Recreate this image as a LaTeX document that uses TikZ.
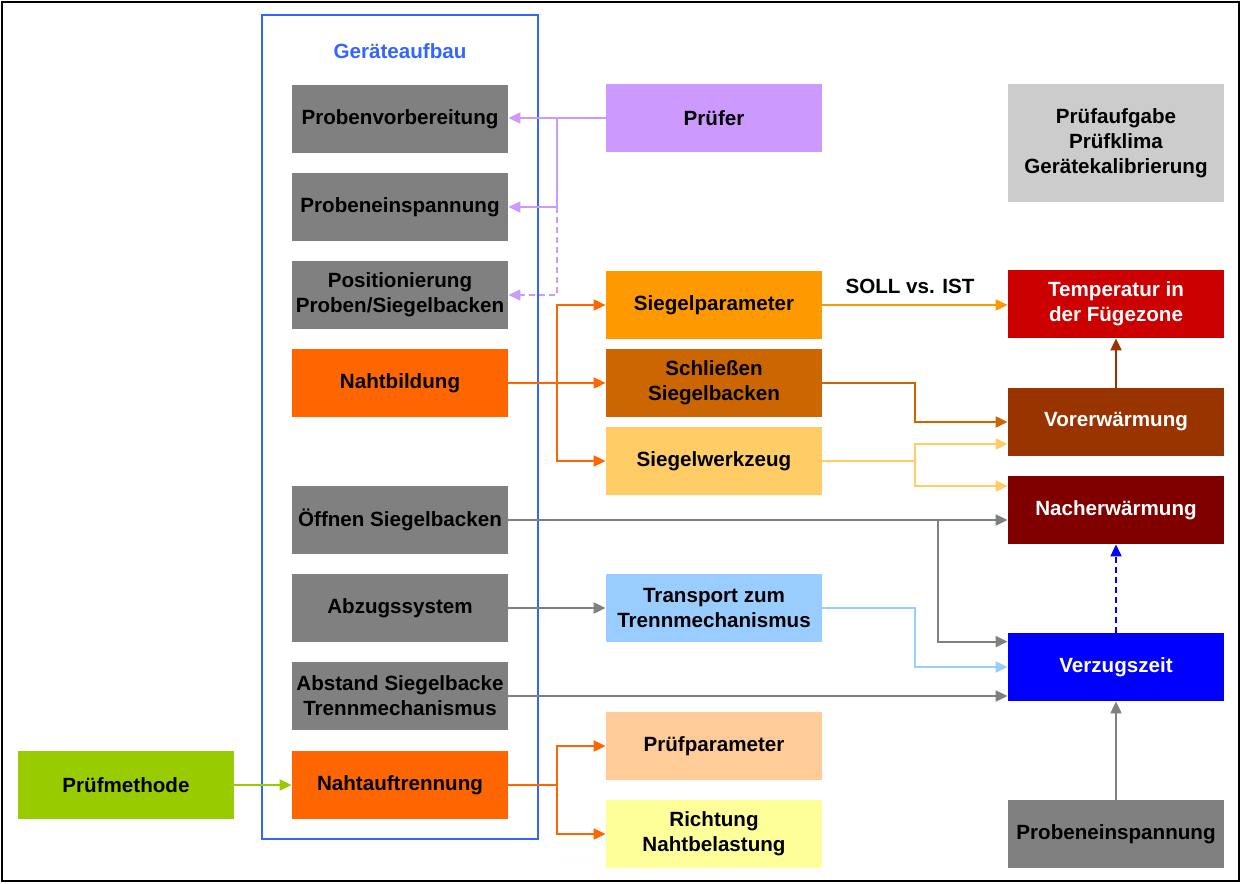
\documentclass[tikz,border=0pt]{standalone}
\usepackage{fontspec}
\setmainfont{Liberation Sans}
\usetikzlibrary{arrows.meta}

\definecolor{grau}{HTML}{808080}
\definecolor{hellgrau}{HTML}{CCCCCC}
\definecolor{blau}{HTML}{3366FF}
\definecolor{orangeA}{HTML}{FF6600}
\definecolor{lila}{HTML}{CC99FF}
\definecolor{sparam}{HTML}{FF9900}
\definecolor{schliess}{HTML}{CC6600}
\definecolor{swerkz}{HTML}{FFCC66}
\definecolor{transp}{HTML}{99CCFF}
\definecolor{pparam}{HTML}{FFCC99}
\definecolor{richt}{HTML}{FFFF99}
\definecolor{temp}{HTML}{CC0000}
\definecolor{vorw}{HTML}{993300}
\definecolor{nachw}{HTML}{800000}
\definecolor{verz}{HTML}{0000FF}
\definecolor{methode}{HTML}{99CC00}

\begin{document}
\begin{tikzpicture}[x=0.5pt,y=-0.5pt,
    font=\fontsize{10.3}{12.4}\selectfont\bfseries,
    pfeil/.style={-{Triangle[length=6pt,width=5.5pt]},line width=1pt}]

      \useasboundingbox (0,0) rectangle (1241,883);
      \draw[line width=1pt] (2,2) rectangle (1239,881);
      \draw[blau, line width=1pt] (262,15) rectangle (538,839);
      \node[text=blau] (0) at (400,51) {Geräteaufbau};
      \node (23) at (910,286) {SOLL vs. IST};

      \begin{scope}[every node/.style={rectangle, minimum width=108pt, minimum height=34pt, inner sep=0pt, align=center}]
        \node[fill=grau]     (1)  at (400,119) {Probenvorbereitung};
        \node[fill=grau]     (2)  at (400,207) {Probeneinspannung};
        \node[fill=grau]     (3)  at (400,295) {Positionierung\\Proben/Siegelbacken};
        \node[fill=orangeA]  (4)  at (400,383) {Nahtbildung};
        \node[fill=grau]     (5)  at (400,520) {Öffnen Siegelbacken};
        \node[fill=grau]     (6)  at (400,608) {Abzugssystem};
        \node[fill=grau]     (7)  at (400,696) {Abstand Siegelbacke\\Trennmechanismus};
        \node[fill=orangeA]  (8)  at (400,785) {Nahtauftrennung};
        \node[fill=lila]     (9)  at (714,118) {Prüfer};
        \node[fill=sparam]   (10) at (714,305) {Siegelparameter};
        \node[fill=schliess] (11) at (714,383) {Schließen\\Siegelbacken};
        \node[fill=swerkz]   (12) at (714,461) {Siegelwerkzeug};
        \node[fill=transp]   (13) at (714,608) {Transport zum\\Trennmechanismus};
        \node[fill=pparam]   (14) at (714,746) {Prüfparameter};
        \node[fill=richt]    (15) at (714,834) {Richtung\\Nahtbelastung};
        \node[fill=hellgrau, minimum height=59pt] (16) at (1116,143) {Prüfaufgabe\\Prüfklima\\Gerätekalibrierung};
        \node[fill=temp, text=white]  (17) at (1116,304) {Temperatur in\\der Fügezone};
        \node[fill=vorw, text=white]  (18) at (1116,422) {Vorerwärmung};
        \node[fill=nachw, text=white] (19) at (1116,510) {Nacherwärmung};
        \node[fill=verz, text=white]  (20) at (1116,667) {Verzugszeit};
        \node[fill=grau]     (21) at (1116,834) {Probeneinspannung};
        \node[fill=methode]  (22) at (126,785)  {Prüfmethode};
      \end{scope}

      % Pruefer
      \coordinate (p1) at (557,119);
      \coordinate (p2) at (557,207);
      \draw[pfeil, lila] (9.west) -- (9.west -| 1.east);
      \draw[pfeil, lila] (p1) |- (2.east);
      \draw[pfeil, lila, dash pattern=on 3pt off 2pt] (p2) |- (3.east);

      % Nahtbildung
      \coordinate (n1) at (557,383);
      \draw[pfeil, orangeA] (4.east) -- (11.west);
      \draw[pfeil, orangeA] (n1) |- (10.west);
      \draw[pfeil, orangeA] (n1) |- (12.west);

      % Temperatur
      \coordinate (s1) at (915,422);
      \coordinate (w1) at (915,461);
      \draw[pfeil, sparam] (10.east) -- (10.east -| 17.west);
      \draw[pfeil, schliess] (11.east) -| (s1) -- (18.west);
      \draw[pfeil, swerkz] (12.east) -- (w1) |- ([yshift=-11pt]18.west);
      \draw[pfeil, swerkz] (w1) |- ([yshift=12pt]19.west);
      \draw[pfeil, vorw] (18.north) -- (17.south);

      % Verzugszeit
      \coordinate (g1) at (938,520);
      \coordinate (t1) at (915,608);
      \draw[pfeil, grau] (5.east) -- (5.east -| 19.west);
      \draw[pfeil, grau] (g1) |- ([yshift=-4.5pt]20.north west);
      \draw[pfeil, grau] (6.east) -- (13.west);
      \draw[pfeil, transp] (13.east) -- (t1) |- (20.west);
      \draw[pfeil, grau] (7.east) -- (7.east -| 20.west);
      \draw[pfeil, verz, dash pattern=on 3pt off 2pt] (20.north) -- (19.south);
      \draw[pfeil, grau] (21.north) -- (20.south);

      % Nahtauftrennung
      \coordinate (a1) at (557,785);
      \draw[pfeil, methode] (22.east) -- (8.west);
      \draw[pfeil, orangeA] (8.east) -- (a1) |- (14.west);
      \draw[pfeil, orangeA] (a1) |- (15.west);

    \end{tikzpicture}
\end{document}
